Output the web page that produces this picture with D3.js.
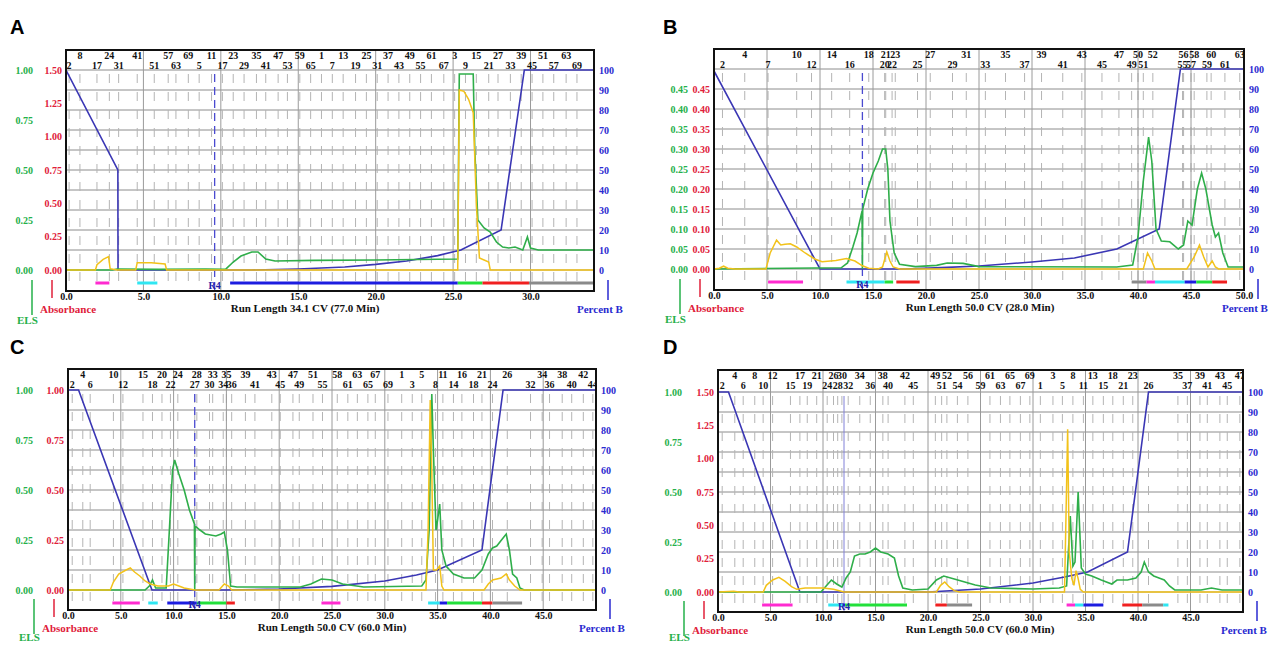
<!DOCTYPE html>
<html>
<head>
<meta charset="utf-8">
<script src="https://cdn.jsdelivr.net/npm/d3@7"></script>
<style>
body { margin: 0; background: #fff; }
svg text { font-family: "Liberation Serif", "DejaVu Serif", serif; font-weight: bold; }
</style>
</head>
<body>
<script>
// ---- panel A : Run Length 34.1 CV ----
const aGradient = [[0,100],[3.35,50],[3.36,0],[12,0],[15,0.5],[18,1.5],[20,2.8],[22,4.5],[24,7.2],[25.5,10],[28.1,20],[29.6,100],[34.1,100]];
const aEls = [[0,0],[3,0],[3.3,0.005],[6,0.003],[9,0.005],[10.3,0.003],[10.8,0.04],[11.3,0.07],[12.0,0.09],[12.4,0.09],[12.9,0.055],[13.5,0.045],[16,0.048],[20,0.05],[25.3,0.055],[25.4,0.98],[26.3,0.98],[26.4,0.6],[26.6,0.25],[27.0,0.21],[27.4,0.19],[27.8,0.14],[28.2,0.115],[28.6,0.11],[29.0,0.115],[29.5,0.1],[29.8,0.165],[30.0,0.11],[30.5,0.1],[34.1,0.1]];
const aAbs = [[0,0],[1.9,0],[2.0,0.04],[2.4,0.08],[2.75,0.1],[2.85,0.01],[3.3,0],[4.5,0],[4.6,0.055],[5.5,0.055],[6.4,0.045],[6.5,0],[25.3,0],[25.4,1.35],[25.7,1.34],[26.0,1.28],[26.3,1.18],[26.5,0.5],[26.7,0.09],[27.0,0.075],[27.3,0.06],[27.4,0],[34.1,0]];
const aBars = [[1.9,2.8,"m"],[4.6,5.9,"c"],[10.6,25.3,"b"],[25.3,26.9,"g"],[26.9,29.9,"r"],[29.9,34.1,"k"]];
const aTopRow = [[0.9,"8"],[2.8,"24"],[4.6,"41"],[6.6,"57"],[7.9,"69"],[9.4,"11"],[10.8,"23"],[12.3,"35"],[13.7,"47"],[15.1,"59"],[16.5,"1"],[17.9,"13"],[19.4,"25"],[20.8,"37"],[22.2,"49"],[23.6,"61"],[25.1,"3"],[26.5,"15"],[27.9,"27"],[29.4,"39"],[30.8,"51"],[32.3,"63"]];
const aLowRow = [[0.2,"2"],[2.0,"17"],[3.4,"31"],[5.7,"51"],[7.1,"63"],[8.6,"5"],[10.1,"17"],[11.5,"29"],[12.9,"41"],[14.3,"53"],[15.8,"65"],[17.2,"7"],[18.7,"19"],[20.1,"31"],[21.5,"43"],[22.9,"55"],[24.4,"67"],[25.8,"9"],[27.3,"21"],[28.7,"33"],[30.1,"45"],[31.5,"57"],[33.0,"69"]];

// ---- panel B : Run Length 50.0 CV ----
const bGradient = [[0,99],[10,0],[18,0],[22,0.8],[25,1.5],[30,3.5],[34,5.5],[38,10],[42,20],[44,100],[50,100]];
const bEls = [[0,0],[12,0.003],[12.6,0.015],[13.1,0.055],[13.5,0.09],[13.97,0.145],[14.0,0],[14.03,0.15],[14.5,0.2],[15,0.24],[15.5,0.27],[15.9,0.3],[16.2,0.3],[16.4,0.25],[16.6,0.12],[17,0.04],[17.5,0.012],[19,0.006],[21,0.009],[22,0.015],[23.5,0.014],[25,0.006],[38,0.005],[39.5,0.01],[40.0,0.08],[40.5,0.22],[41.0,0.33],[41.3,0.27],[41.7,0.1],[42.2,0.07],[43,0.068],[43.8,0.05],[44.3,0.06],[44.7,0.12],[45.1,0.11],[45.6,0.2],[46,0.24],[46.4,0.2],[47,0.11],[47.3,0.08],[47.6,0.09],[48,0.04],[48.5,0.005],[50,0.005]];
const bAbs = [[0,0],[0.5,0.002],[0.9,0.007],[1.3,0.002],[2,0],[4.9,0],[5.3,0.04],[5.9,0.072],[6.3,0.06],[6.7,0.062],[7.2,0.063],[7.8,0.055],[8.6,0.04],[9.5,0.025],[10.2,0.018],[11.5,0.021],[12.5,0.026],[13.3,0.02],[14,0.008],[14.6,0.002],[15.5,0],[15.9,0.005],[16.3,0.043],[16.6,0.02],[16.9,0.005],[17.5,0],[40.5,0],[40.9,0.04],[41.3,0.02],[41.6,0],[44.6,0],[45.3,0.03],[45.8,0.06],[46.2,0.03],[46.6,0.005],[47.0,0.02],[47.3,0.005],[47.6,0],[50,0]];
const bBars = [[5.1,8.4,"m"],[12.5,16.1,"c"],[16.1,16.9,"g"],[17.2,19.4,"r"],[39.4,40.8,"k"],[40.8,41.6,"m"],[41.6,44.4,"c"],[44.4,45.5,"b"],[45.5,47,"g"],[47,48.4,"r"]];
const bTopRow = [[2.9,"4"],[7.8,"10"],[11.1,"14"],[14.6,"18"],[16.2,"21"],[17.1,"23"],[20.4,"27"],[23.8,"31"],[27.5,"35"],[30.9,"39"],[34.7,"43"],[38.2,"47"],[40.0,"50"],[41.4,"52"],[44.3,"56"],[45.3,"58"],[46.9,"60"],[49.6,"63"]];
const bLowRow = [[0.8,"2"],[5.1,"7"],[9.2,"12"],[12.8,"16"],[16.1,"20"],[16.8,"22"],[19.2,"25"],[22.5,"29"],[25.6,"33"],[29.3,"37"],[32.9,"41"],[36.6,"45"],[39.4,"49"],[40.5,"51"],[44.2,"55"],[45.0,"57"],[46.5,"59"],[48.2,"61"]];

// ---- panel C : Run Length 50.0 CV (60 min) ----
const cGradient = [[0,100],[1,100],[7.95,0],[15,0],[20,0.5],[25,1.8],[30,4.5],[33,7.5],[35,10],[39.2,20],[41.2,100],[50,100]];
const cEls = [[0,0],[7.3,0],[7.7,0.02],[8.0,0.05],[8.3,0.01],[9.3,0.01],[9.6,0.3],[9.9,0.6],[10.1,0.65],[10.5,0.58],[11,0.5],[11.5,0.4],[11.97,0.33],[12.0,0],[12.03,0.32],[12.5,0.3],[13,0.28],[14,0.27],[14.5,0.28],[14.8,0.29],[15.1,0.2],[15.4,0.02],[16,0.015],[22,0.015],[23,0.03],[24,0.055],[25,0.05],[26,0.03],[28,0.015],[33.5,0.02],[33.9,0.05],[34.2,0.3],[34.45,0.98],[34.6,0.7],[34.85,0.3],[35.0,0.35],[35.2,0.43],[35.4,0.2],[35.8,0.12],[36.5,0.08],[37.5,0.06],[38.5,0.06],[39.2,0.1],[39.8,0.18],[40.2,0.21],[40.6,0.22],[41.2,0.26],[41.5,0.28],[41.8,0.2],[42.1,0.08],[42.5,0.06],[42.8,0.01],[43.2,0],[50,0]];
const cAbs = [[0,0],[4,0],[4.3,0.04],[4.8,0.08],[5.5,0.1],[5.9,0.11],[6.3,0.09],[6.8,0.07],[7.3,0.045],[7.8,0.03],[8.5,0.02],[9.5,0.02],[10,0.03],[10.5,0.02],[11,0.01],[12,0],[14.3,0],[14.8,0.03],[15.2,0.02],[15.5,0],[33.9,0],[34.1,0.3],[34.3,0.95],[34.45,0.6],[34.6,0.1],[34.9,0.1],[35.2,0.12],[35.4,0.02],[35.6,0],[39.4,0],[39.8,0.03],[40.2,0.05],[41,0.06],[41.5,0.08],[41.8,0.05],[42.3,0.02],[42.8,0],[50,0]];
const cBars = [[4.2,6.8,"m"],[7.6,8.5,"c"],[9.4,12.2,"b"],[12.2,15.0,"g"],[15,15.8,"r"],[24.0,25.8,"m"],[34.1,35.2,"c"],[35.2,35.9,"b"],[35.9,39.2,"g"],[39.2,40.2,"r"],[40.2,43,"k"]];
const cTopRow = [[1.4,"4"],[4.3,"10"],[7.1,"15"],[8.9,"20"],[10.4,"24"],[12.2,"28"],[13.7,"33"],[15.0,"35"],[16.8,"39"],[19.3,"43"],[21.3,"47"],[23.2,"51"],[25.5,"58"],[27.4,"63"],[29.1,"67"],[31.6,"1"],[33.5,"5"],[35.5,"11"],[37.3,"16"],[39.2,"21"],[41.6,"26"],[44.9,"34"],[46.8,"38"],[48.8,"42"]];
const cLowRow = [[0.4,"2"],[2.1,"6"],[5.2,"12"],[8.0,"18"],[9.7,"22"],[12.0,"27"],[13.4,"30"],[14.7,"34"],[15.5,"36"],[17.7,"41"],[20.1,"45"],[21.9,"49"],[24.1,"55"],[26.5,"61"],[28.4,"65"],[30.3,"69"],[32.6,"3"],[34.8,"8"],[36.5,"14"],[38.4,"18"],[40.2,"24"],[43.8,"32"],[45.6,"36"],[47.7,"40"],[49.7,"44"]];

// ---- panel D : Run Length 50.0 CV (60 min) ----
const dGradient = [[0,100],[1,100],[7.8,0],[20,0],[25,1.5],[30,4.5],[33,7.5],[35.2,10],[39,20],[41,100],[50,100]];
const dEls = [[0,0],[9.8,0],[10.3,0.03],[10.8,0.06],[11.3,0.04],[11.8,0.025],[12.2,0.07],[12.6,0.1],[13.0,0.18],[13.5,0.19],[14,0.19],[14.5,0.2],[15,0.22],[15.5,0.2],[16.2,0.19],[16.8,0.17],[17.2,0.08],[17.6,0.02],[18.5,0.01],[20,0.015],[20.8,0.06],[21.5,0.08],[22.5,0.065],[23.5,0.05],[24.5,0.035],[26,0.02],[30,0.015],[32.5,0.02],[33.2,0.03],[33.55,0.38],[33.8,0.13],[34.0,0.15],[34.3,0.5],[34.6,0.12],[35.0,0.09],[35.6,0.08],[36.5,0.06],[37.5,0.04],[38,0.06],[39,0.06],[39.8,0.07],[40.3,0.1],[40.6,0.15],[41,0.1],[41.5,0.08],[42,0.07],[42.5,0.06],[43,0.03],[43.5,0.01],[46,0.01],[47,0.02],[48,0.01],[50,0.01]];
const dAbs = [[0,0],[1.5,0.005],[2,0],[4.3,0],[4.6,0.05],[5.2,0.09],[5.8,0.11],[6.4,0.08],[7,0.04],[7.5,0.02],[8.3,0.03],[10,0.03],[11,0.02],[12,0],[20.8,0],[21.2,0.05],[21.6,0.075],[22,0.04],[22.5,0.01],[23,0],[33.0,0],[33.15,0.6],[33.3,1.22],[33.45,0.3],[33.7,0.1],[33.9,0.05],[34.1,0.16],[34.3,0.1],[34.5,0.02],[34.8,0],[50,0]];
const dBars = [[4.2,7.1,"m"],[10.5,11.9,"c"],[11.9,12.1,"b"],[12.1,18.0,"g"],[20.7,21.8,"r"],[21.8,24.2,"k"],[33.2,34.0,"m"],[34.0,34.8,"c"],[34.8,36.7,"b"],[38.5,40.4,"r"],[40.4,42.4,"k"],[42.4,42.9,"c"]];
const dTopRow = [[1.6,"4"],[3.5,"8"],[5.2,"12"],[7.8,"17"],[9.4,"21"],[11.0,"26"],[11.8,"30"],[13.5,"34"],[15.7,"38"],[17.8,"42"],[20.7,"49"],[21.8,"52"],[23.8,"56"],[25.9,"61"],[27.8,"65"],[29.7,"69"],[31.9,"3"],[33.8,"8"],[35.7,"13"],[37.6,"18"],[39.5,"23"],[43.8,"35"],[45.9,"39"],[47.8,"43"],[49.7,"47"]];
const dLowRow = [[0.4,"2"],[2.4,"6"],[4.3,"10"],[6.9,"15"],[8.5,"19"],[10.4,"24"],[11.4,"28"],[12.4,"32"],[14.5,"36"],[16.2,"40"],[18.6,"45"],[21.3,"51"],[22.8,"54"],[25.0,"59"],[26.9,"63"],[28.8,"67"],[30.7,"1"],[32.8,"5"],[34.8,"11"],[36.7,"15"],[38.6,"21"],[41.0,"26"],[44.7,"37"],[46.6,"41"],[48.5,"45"]];

// ---- axis tick labels ----
const pctTicks = [0,10,20,30,40,50,60,70,80,90,100];
const ticks150 = [0,0.25,0.5,0.75,1.0,1.25,1.5];
const ticks100 = [0,0.25,0.5,0.75,1.0];
const ticks045 = [0,0.05,0.1,0.15,0.2,0.25,0.3,0.35,0.4,0.45];
const xTicksA = [0,5,10,15,20,25,30];
const xTicks50 = [0,5,10,15,20,25,30,35,40,45,50];
const xTicks45 = [0,5,10,15,20,25,30,35,40,45];
const panelLetters = ["A","B","C","D"];
const runTitles = ["Run Length 34.1 CV (77.0 Min)","Run Length 50.0 CV (28.0 Min)","Run Length 50.0 CV (60.0 Min)","Run Length 50.0 CV (60.0 Min)"];
const rackMarks = [9.6, 14.0, 12.0, 12.0];

const barColors = {m:"#ff2bd0", c:"#2fe6f2", b:"#1c1ce0", g:"#22e03a", r:"#f02020", k:"#8a8a8a"};
const C_GRAD = "#3a36b4", C_ELS = "#2fae4a", C_ABS = "#f2c21a", C_PCT = "#2a2ad0", C_RED = "#e0203a", C_GRN = "#25b04a";
const SERIF = "'Liberation Serif', 'DejaVu Serif', serif";

const panels = [
  {letter:panelLetters[0], lx:10, ly:34, left:66, right:594, top:50, y100:70, y0:270, bottom:291, xMax:34.1, absMax:1.5, elsMax:1.0,
   absTicks:ticks150, elsTicks:ticks100, xTicks:xTicksA, gradient:aGradient, els:aEls, abs:aAbs, bars:aBars, top1:aTopRow, top2:aLowRow,
   title:runTitles[0], titleX:305, rack:rackMarks[0], rackDash:true, grnOff:33, pbOff:17},
  {letter:panelLetters[1], lx:663, ly:34, left:714, right:1244, top:49, y100:69, y0:269, bottom:290, xMax:50, absMax:0.5, elsMax:0.5,
   absTicks:ticks045, elsTicks:ticks045, xTicks:xTicks50, gradient:bGradient, els:bEls, abs:bAbs, bars:bBars, top1:bTopRow, top2:bLowRow,
   title:runTitles[1], titleX:980, rack:rackMarks[1], rackDash:true, grnOff:26, pbOff:22},
  {letter:panelLetters[2], lx:10, ly:354, left:68, right:596, top:369, y100:390, y0:590, bottom:610, xMax:50, absMax:1.0, elsMax:1.0,
   absTicks:ticks100, elsTicks:ticks100, xTicks:xTicks45, gradient:cGradient, els:cEls, abs:cAbs, bars:cBars, top1:cTopRow, top2:cLowRow,
   title:runTitles[2], titleX:332, rack:rackMarks[2], rackDash:true, grnOff:35, pbOff:17},
  {letter:panelLetters[3], lx:663, ly:354, left:718, right:1243, top:370, y100:392, y0:592, bottom:612, xMax:50, absMax:1.5, elsMax:1.0,
   absTicks:ticks150, elsTicks:ticks100, xTicks:xTicks45, gradient:dGradient, els:dEls, abs:dAbs, bars:dBars, top1:dTopRow, top2:dLowRow,
   title:runTitles[3], titleX:980, rack:rackMarks[3], rackDash:false, grnOff:36, pbOff:22}
];

const svg = d3.select("body").append("svg")
  .attr("width", 1269).attr("height", 645);

function drawPanel(p, i) {
  const g = svg.append("g");
  const x = d3.scaleLinear().domain([0, p.xMax]).range([p.left, p.right]);
  const yB = d3.scaleLinear().domain([0, 100]).range([p.y0, p.y100]);
  const yAbs = d3.scaleLinear().domain([0, p.absMax]).range([p.y0, p.y100]);
  const yEls = d3.scaleLinear().domain([0, p.elsMax]).range([p.y0, p.y100]);

  const clipId = "clip" + i;
  g.append("clipPath").attr("id", clipId).append("rect")
    .attr("x", p.left).attr("y", p.top).attr("width", p.right - p.left).attr("height", p.bottom - p.top);
  const plot = g.append("g").attr("clip-path", "url(#" + clipId + ")");

  // horizontal grid every 10 %B
  plot.selectAll(".hg").data(pctTicks).join("line")
    .attr("x1", p.left).attr("x2", p.right)
    .attr("y1", d => yB(d)).attr("y2", d => yB(d))
    .attr("stroke", "#8c8c8c").attr("stroke-width", 1);

  // fraction marks (dashed)
  const fracPos = p.top1.concat(p.top2).map(d => d[0]);
  plot.selectAll(".fg").data(fracPos).join("line")
    .attr("x1", d => x(d)).attr("x2", d => x(d))
    .attr("y1", p.y100 + 4).attr("y2", p.bottom)
    .attr("stroke", "#b4b4b4").attr("stroke-width", 1)
    .attr("stroke-dasharray", "9,9");

  // vertical solid grid every 5 CV
  plot.selectAll(".vg").data(d3.range(5, p.xMax, 5)).join("line")
    .attr("x1", d => x(d)).attr("x2", d => x(d))
    .attr("y1", p.top).attr("y2", p.bottom)
    .attr("stroke", "#9a9a9a").attr("stroke-width", 1);

  // rack change marker
  plot.append("line")
    .attr("x1", x(p.rack)).attr("x2", x(p.rack))
    .attr("y1", p.y100 + 4).attr("y2", p.bottom)
    .attr("stroke", p.rackDash ? "#4a4ad0" : "#8080d8")
    .attr("stroke-width", p.rackDash ? 1.3 : 1)
    .attr("stroke-dasharray", p.rackDash ? "8,5" : null);
  g.append("text").attr("x", x(p.rack)).attr("y", p.bottom - 2)
    .attr("text-anchor", "middle").attr("font-size", 10).attr("fill", "#2222aa").text("R4");

  // fraction bars
  plot.selectAll(".bar").data(p.bars).join("line")
    .attr("x1", d => x(d[0])).attr("x2", d => x(d[1]))
    .attr("y1", p.y0 + 13).attr("y2", p.y0 + 13)
    .attr("stroke", d => barColors[d[2]]).attr("stroke-width", 3);

  // traces
  const lineB = d3.line().x(d => x(d[0])).y(d => yB(d[1]));
  const lineE = d3.line().x(d => x(d[0])).y(d => yEls(d[1]));
  const lineA = d3.line().x(d => x(d[0])).y(d => yAbs(d[1]));
  plot.append("path").datum(p.gradient).attr("d", lineB)
    .attr("fill", "none").attr("stroke", C_GRAD).attr("stroke-width", 1.6);
  plot.append("path").datum(p.els).attr("d", lineE)
    .attr("fill", "none").attr("stroke", C_ELS).attr("stroke-width", 1.6);
  plot.append("path").datum(p.abs).attr("d", lineA)
    .attr("fill", "none").attr("stroke", C_ABS).attr("stroke-width", 1.5);

  // fraction numbers
  const labs = g.append("g").attr("clip-path", "url(#" + clipId + ")")
    .attr("font-size", 10).attr("fill", "#111").attr("text-anchor", "middle");
  labs.selectAll(".t1").data(p.top1).join("text")
    .attr("x", d => x(d[0])).attr("y", p.top + 9).text(d => d[1]);
  labs.selectAll(".t2").data(p.top2).join("text")
    .attr("x", d => x(d[0])).attr("y", p.top + 19).text(d => d[1]);

  // frame
  g.append("rect").attr("x", p.left).attr("y", p.top)
    .attr("width", p.right - p.left).attr("height", p.bottom - p.top)
    .attr("fill", "none").attr("stroke", "#111").attr("stroke-width", 2);

  // axes
  const absAxis = g.append("g").attr("transform", "translate(" + (p.left - 4) + ",0)")
    .call(d3.axisLeft(yAbs).tickValues(p.absTicks).tickFormat(d3.format(".2f")).tickSize(0).tickPadding(0));
  absAxis.selectAll("text").attr("fill", C_RED);
  const elsAxis = g.append("g").attr("transform", "translate(" + (p.left - p.grnOff) + ",0)")
    .call(d3.axisLeft(yEls).tickValues(p.elsTicks).tickFormat(d3.format(".2f")).tickSize(0).tickPadding(0));
  elsAxis.selectAll("text").attr("fill", C_GRN);
  const pAxis = g.append("g").attr("transform", "translate(" + (p.right + 5) + ",0)")
    .call(d3.axisRight(yB).tickValues(pctTicks).tickSize(0).tickPadding(0));
  pAxis.selectAll("text").attr("fill", C_PCT);
  const xAxis = g.append("g").attr("transform", "translate(0," + (p.bottom + 2) + ")")
    .call(d3.axisBottom(x).tickValues(p.xTicks).tickFormat(d3.format(".1f")).tickSize(0).tickPadding(0));
  xAxis.selectAll("text").attr("fill", "#111");
  [absAxis, elsAxis, pAxis, xAxis].forEach(a => {
    a.select(".domain").remove();
    a.attr("font-family", null).attr("font-size", null);
    a.selectAll("text").style("font-family", SERIF).style("font-weight", "bold").style("font-size", "10px");
  });

  // axis captions
  g.append("text").attr("x", p.titleX).attr("y", p.bottom + 21).attr("text-anchor", "middle")
    .attr("font-size", 11).attr("fill", "#111").text(p.title);
  g.append("line").attr("x1", p.left - 14).attr("x2", p.left - 14)
    .attr("y1", p.bottom - 11).attr("y2", p.bottom + 7).attr("stroke", C_RED).attr("stroke-width", 1.5);
  g.append("text").attr("x", p.left - 26).attr("y", p.bottom + 22)
    .attr("font-size", 11).attr("fill", C_RED).text("Absorbance");
  g.append("line").attr("x1", p.left - 34).attr("x2", p.left - 34)
    .attr("y1", p.bottom - 11).attr("y2", p.bottom + 24).attr("stroke", C_GRN).attr("stroke-width", 1.5);
  g.append("text").attr("x", p.left - 49).attr("y", Math.min(p.bottom + 33, 641))
    .attr("font-size", 11).attr("fill", C_GRN).text("ELS");
  g.append("line").attr("x1", p.right + 14).attr("x2", p.right + 14)
    .attr("y1", p.bottom - 11).attr("y2", p.bottom + 9).attr("stroke", C_PCT).attr("stroke-width", 1.5);
  g.append("text").attr("x", p.right - p.pbOff).attr("y", p.bottom + 22)
    .attr("font-size", 11).attr("fill", C_PCT).text("Percent B");

  // panel letter
  svg.append("text").attr("x", p.lx).attr("y", p.ly)
    .style("font-family", "Arial, 'Liberation Sans', sans-serif").style("font-weight", "bold")
    .attr("font-size", 20).attr("fill", "#000").text(p.letter);
}

panels.forEach(drawPanel);
</script>
</body>
</html>
